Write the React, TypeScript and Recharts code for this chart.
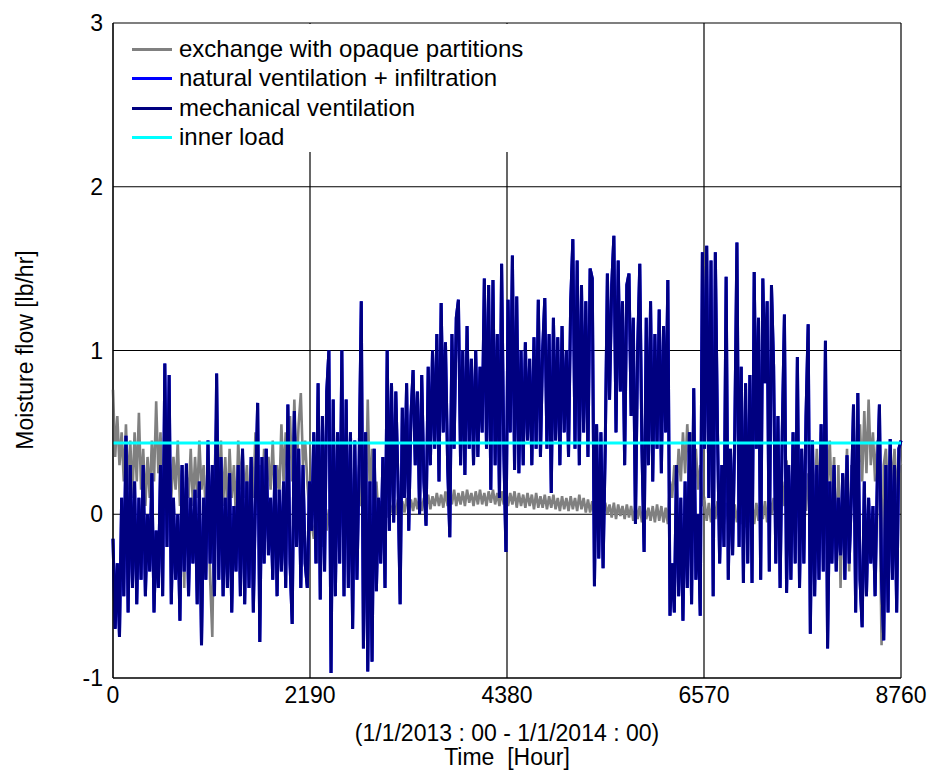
import React from 'react';
import { LineChart, Line, XAxis, YAxis, CartesianGrid, Legend, Label } from 'recharts';

const FONT = '"Liberation Sans", Arial, sans-serif';
const STEP_HOURS = 24;
const xTicks = [0, 2190, 4380, 6570, 8760];
const yTicks = [-1, 0, 1, 2, 3];
const INNER_LOAD = 0.435;

// exchange with opaque partitions (daily samples, lb/hr)
const opaque = [
  0.76, 0.35, 0.6, 0.3, 0.5, 0.2, 0.55, 0.15, 0.45, 0.1,
  0.5, 0.2, 0.62, 0.15, 0.4, 0.05, 0.35, 0.1, 0.45, 0.2,
  0.69, 0.25, 0.5, 0.05, 0.3, 0.0, 0.4, 0.1, 0.35, 0.15,
  0.45, 0.05, 0.3, -0.45, 0.25, 0.1, 0.4, 0.05, 0.35, 0.1,
  0.45, 0.15, 0.3, 0.0, 0.25, -0.4, -0.75, 0.2, 0.66, 0.1,
  0.45, 0.05, 0.35, 0.0, 0.4, 0.1, 0.3, -0.05, 0.45, 0.15,
  0.4, 0.1, 0.3, 0.0, 0.35, 0.1, 0.5, 0.15, 0.3, 0.05,
  0.4, 0.1, 0.35, 0.15, 0.45, 0.05, 0.3, 0.1, 0.55, 0.2,
  0.5, 0.15, 0.6, 0.2, 0.7, 0.25, 0.55, 0.74, 0.3, 0.45,
  0.2, 0.0, -0.05, -0.15, 0.02, -0.3, -0.05, -0.2, 0.0, -0.1,
  0.03, -0.15, 0.0, -0.08, 0.05, -0.1, 0.02, -0.05, 0.05, -0.08,
  0.04, -0.06, 0.1, 0.0, 0.3, 0.05, 0.2, 0.0, 0.7, 0.1,
  0.4, 0.0, 0.2, -0.02, 0.08, 0.0, 0.07, -0.02, 0.08, 0.01,
  0.07, 0.0, 0.09, 0.02, 0.08, 0.01, 0.1, 0.03, 0.09, 0.02,
  0.1, 0.03, 0.11, 0.02, 0.1, 0.04, 0.12, 0.03, 0.11, 0.05,
  0.13, 0.05, 0.12, 0.04, 0.14, 0.05, 0.12, 0.06, 0.15, 0.05,
  0.13, 0.06, 0.14, 0.05, 0.15, 0.07, 0.13, 0.05, 0.14, 0.06,
  0.15, 0.06, 0.13, 0.05, 0.14, 0.07, 0.15, 0.06, 0.13, 0.05,
  0.14, 0.06, 0.15, 0.05, 0.13, 0.06, 0.14, 0.04, 0.13, 0.05,
  0.12, 0.04, 0.13, 0.05, 0.12, 0.03, 0.13, 0.04, 0.11, 0.04,
  0.12, 0.03, 0.11, 0.04, 0.12, 0.03, 0.1, 0.02, 0.11, 0.03,
  0.1, 0.02, 0.11, 0.03, 0.1, 0.02, 0.12, 0.03, 0.1, 0.01,
  0.09, 0.01, 0.08, -0.02, 0.07, 0.0, 0.08, -0.01, 0.07, 0.0,
  0.06, -0.02, 0.07, -0.03, 0.06, -0.01, 0.05, -0.03, 0.06, -0.02,
  0.05, -0.04, 0.06, -0.03, 0.05, -0.05, 0.06, -0.03, 0.04, -0.04,
  0.05, -0.05, 0.06, -0.04, 0.05, -0.05, 0.04, -0.06, 0.2, 0.1,
  0.3, 0.12, 0.4, 0.2, 0.5, 0.25, 0.55, 0.3, 0.5, 0.2,
  0.4, 0.15, 0.3, 0.05, 0.08, -0.04, 0.07, -0.05, 0.1, -0.03,
  0.08, -0.05, 0.06, -0.06, 0.07, -0.05, 0.05, -0.07, 0.06, -0.05,
  0.07, -0.06, 0.05, -0.08, 0.06, -0.05, 0.08, -0.06, 0.07, -0.04,
  0.1, -0.03, 0.08, -0.05, 0.12, 0.0, 0.1, -0.04, 0.15, 0.02,
  0.2, 0.05, 0.33, 0.1, 0.15, 0.0, 0.12, -0.02, 0.2, 0.05,
  0.15, 0.02, 0.25, 0.05, 0.3, 0.08, 0.4, 0.1, 0.5, 0.2,
  0.63, 0.15, 0.45, 0.05, 0.35, -0.3, 0.3, -0.45, 0.25, 0.05,
  0.4, -0.35, 0.3, 0.1, 0.45, 0.15, 0.55, 0.2, 0.63, 0.25,
  0.7, 0.3, 0.5, 0.2, 0.45, 0.15, -0.8, 0.3, 0.4, 0.1,
  0.45, 0.15, 0.4, 0.1, 0.35, 0.3,
];

// mechanical ventilation (daily samples, lb/hr)
const mechVent = [
  -0.15, -0.7, -0.3, -0.75, 0.1, -0.5, 0.48, -0.6, 0.3, -0.45,
  0.2, -0.55, 0.1, -0.4, 0.3, -0.5, 0.0, -0.35, 0.25, -0.6,
  -0.1, -0.45, 0.3, -0.5, 0.92, -0.2, 0.85, -0.55, 0.1, -0.4,
  0.0, -0.65, 0.3, -0.35, 0.31, -0.5, 0.1, -0.3, 0.15, -0.55,
  0.2, -0.8, 0.1, -0.4, 0.45, -0.3, 0.3, -0.5, 0.86, -0.4,
  0.35, -0.5, 0.1, -0.45, 0.25, -0.6, 0.05, -0.35, 0.3, -0.5,
  0.4, -0.55, 0.2, -0.45, 0.35, -0.6, 0.1, 0.68, -0.78, 0.35,
  -0.3, 0.4, -0.25, 0.1, -0.4, 0.3, -0.5, 0.15, -0.35, 0.2,
  -0.45, 0.67, -0.3, -0.67, 0.63, -0.2, 0.4, -0.45, 0.3, -0.3,
  -0.45, 0.2, -0.1, 0.5, -0.3, 0.8, -0.52, 0.6, -0.35, 0.75,
  1.0, -0.97, 0.7, -0.5, 0.5, -0.3, 1.0, -0.5, 0.7, -0.45,
  0.5, -0.7, 0.45, -0.4, 0.3, 1.3, -0.82, 0.5, -0.96, 0.2,
  -0.9, 0.4, -0.47, 0.1, -0.3, 0.35, -0.45, 1.0, -0.1, 0.8,
  -0.05, 0.75, 0.2, -0.55, 0.65, 0.1, 0.8, -0.1, 0.6, 0.88,
  0.3, 0.75, 0.0, 0.85, 0.2, -0.07, 0.9, 0.3, 1.0, 0.4,
  1.1, 0.2, 1.29, 0.5, 1.05, 0.3, -0.14, 1.1, 0.4, 1.2,
  1.31, 0.3, 1.0, 0.24, 1.15, 0.4, 0.95, 0.3, 1.0, 0.35,
  0.9, 0.5, 1.44, 0.4, 1.4, 0.15, 1.43, 0.3, 1.1, 0.1,
  1.53, 0.4, -0.23, 1.31, 0.5, 1.58, 0.27, 1.33, 0.25, 1.0,
  0.3, 1.05, 0.45, 0.95, 0.3, 1.08, 0.4, 1.31, 0.35, 1.0,
  1.32, 0.4, 1.1, 0.13, 1.2, 0.45, 1.08, 0.3, 1.15, 0.5,
  1.0, 0.35, 1.3, 1.68, 0.4, 1.55, 0.3, 1.4, 0.5, 1.3,
  0.35, 1.5, 1.44, -0.44, 0.55, -0.27, 0.5, -0.33, 0.4, 1.47,
  0.7, 1.4, 1.7, 0.5, 1.55, 0.75, 1.3, 0.3, 1.4, 1.47,
  0.6, 1.2, -0.06, 1.0, 1.53, 0.4, -0.23, 1.2, 0.3, 1.3,
  0.2, 1.1, 0.4, 1.25, 0.25, 1.15, 0.5, 1.43, -0.62, -0.3,
  -0.6, 0.3, -0.5, 0.1, -0.65, 0.2, -0.45, 0.5, -0.55, 0.77,
  -0.4, 0.0, -0.62, 1.6, 0.4, 1.64, 0.1, 1.55, -0.5, 1.6,
  0.5, -0.3, 0.3, -0.2, 1.45, -0.4, 0.4, -0.25, 0.5, 1.66,
  -0.2, 0.9, -0.42, 0.8, -0.3, 0.85, -0.42, 1.48, 0.4, 1.2,
  -0.4, 1.44, 0.8, 1.3, -0.35, 1.4, 0.9, -0.3, 0.6, -0.45,
  0.5, 1.22, -0.48, 0.3, -0.4, 0.5, -0.3, 0.96, -0.45, 0.4,
  -0.3, 0.6, 1.16, -0.73, 0.45, -0.5, 0.3, -0.4, 0.55, -0.35,
  1.06, -0.82, 0.2, -0.3, 0.3, -0.35, 0.1, -0.25, 0.25, -0.4,
  0.36, -0.3, 0.1, 0.67, -0.6, 0.74, -0.4, -0.69, 0.2, -0.5,
  0.1, -0.3, 0.05, -0.5, 0.2, 0.67, -0.4, -0.77, 0.3, -0.6,
  0.46, -0.4, 0.3, -0.6, 0.4, 0.45,
];

// natural ventilation + infiltration coincides with the mechanical series almost everywhere
const naturalVent = mechVent;

const seriesNames = [
  'exchange with opaque partitions',
  'natural ventilation + infiltration',
  'mechanical ventilation',
  'inner load',
];
const seriesColors = ['#808080', '#0000ff', '#000080', '#00ffff'];

const chartData = mechVent.map((m, i) => ({
  hour: i * STEP_HOURS,
  opaque: opaque[i],
  natural: naturalVent[i],
  mech: m,
  inner: INNER_LOAD,
}));

const LegendBox = () => (
  <div style={{ position: 'relative', width: 426, height: 128, background: '#fff', fontFamily: FONT, fontSize: 24, color: '#000' }}>
    {seriesNames.map((name, i) => (
      <div key={name}>
        <div
          style={{
            position: 'absolute',
            left: 18,
            top: 24 + i * 29.3,
            width: 40,
            height: 3,
            background: seriesColors[i],
          }}
        />
        <div
          style={{
            position: 'absolute',
            left: 65,
            top: 13 + i * 29.3,
            lineHeight: '24px',
            whiteSpace: 'nowrap',
          }}
        >
          {name}
        </div>
      </div>
    ))}
  </div>
);

export default function App() {
  return (
    <div style={{ position: 'absolute', left: 0, top: 0, width: 944, height: 771, background: '#fff' }}>
      <LineChart width={944} height={771} data={chartData} margin={{ top: 23, right: 43, bottom: 0, left: 0 }}>
        <CartesianGrid stroke="#000" strokeWidth={1.2} horizontalValues={yTicks} verticalValues={xTicks} />
        <XAxis
          dataKey="hour"
          type="number"
          domain={[0, 8760]}
          ticks={xTicks}
          height={93}
          tickLine={false}
          tickSize={0}
          tickMargin={9}
          axisLine={{ stroke: '#000' }}
          tick={{ fill: '#000', fontSize: 23, fontFamily: FONT }}
        >
          <Label
            content={() => (
              <g>
                <text x={507} y={733} textAnchor="middle" dominantBaseline="central" fontSize={23} fontFamily={FONT} fill="#000">
                  (1/1/2013 : 00 - 1/1/2014 : 00)
                </text>
                <text x={507} y={757} textAnchor="middle" dominantBaseline="central" fontSize={23} fontFamily={FONT} fill="#000">
                  {'Time \u00A0[Hour]'}
                </text>
              </g>
            )}
          />
        </XAxis>
        <YAxis
          type="number"
          domain={[-1, 3]}
          ticks={yTicks}
          width={113}
          tickLine={false}
          tickSize={0}
          tickMargin={10}
          axisLine={{ stroke: '#000' }}
          allowDataOverflow
          tick={{ fill: '#000', fontSize: 23, fontFamily: FONT }}
        >
          <Label
            content={() => (
              <text
                x={25}
                y={350}
                transform="rotate(-90 25 350)"
                textAnchor="middle"
                dominantBaseline="central"
                fontSize={23}
                fontFamily={FONT}
                fill="#000"
              >
                Moisture flow [lb/hr]
              </text>
            )}
          />
        </YAxis>
        <Legend
          layout="horizontal"
          verticalAlign="middle"
          align="center"
          content={() => <LegendBox />}
          wrapperStyle={{ left: 114, top: 24, width: 426, height: 128 }}
        />
        <Line type="linear" dataKey="opaque" name={seriesNames[0]} stroke={seriesColors[0]} strokeWidth={2.6} dot={false} activeDot={false} isAnimationActive={false} />
        <Line type="linear" dataKey="natural" name={seriesNames[1]} stroke={seriesColors[1]} strokeWidth={3} dot={false} activeDot={false} isAnimationActive={false} />
        <Line type="linear" dataKey="mech" name={seriesNames[2]} stroke={seriesColors[2]} strokeWidth={3} dot={false} activeDot={false} isAnimationActive={false} />
        <Line type="linear" dataKey="inner" name={seriesNames[3]} stroke={seriesColors[3]} strokeWidth={3} dot={false} activeDot={false} isAnimationActive={false} />
      </LineChart>
    </div>
  );
}
